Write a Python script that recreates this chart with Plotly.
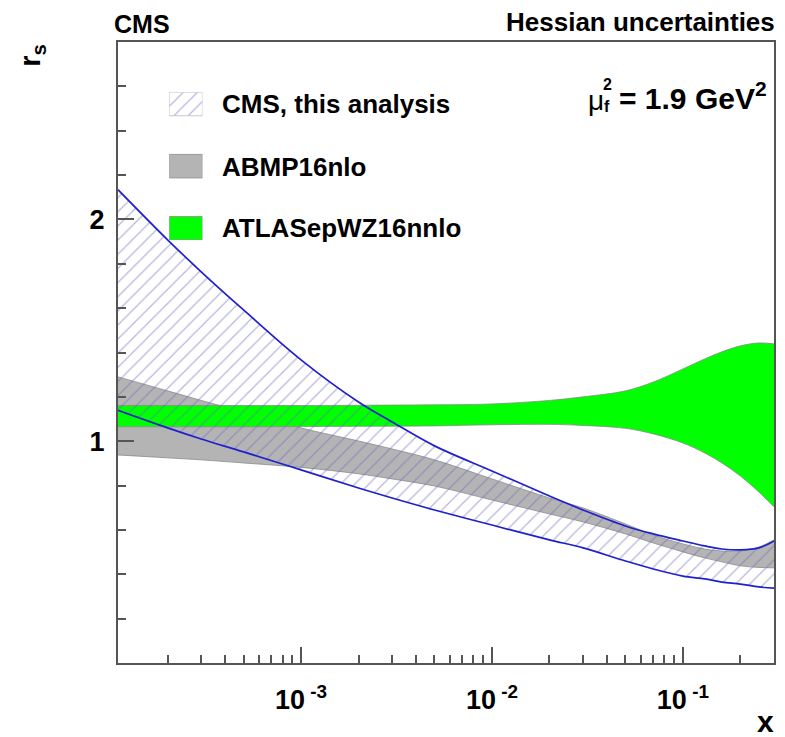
import plotly.graph_objects as go

# x grid (log scale) and band edges for the strange-quark ratio r_s at mu_f^2 = 1.9 GeV^2
xs = [1.1e-4, 2e-4, 3e-4, 5e-4, 1e-3, 2e-3, 3e-3, 5e-3, 1e-2, 2e-2, 3e-2,
      5e-2, 7e-2, 0.1, 0.13, 0.16, 0.2, 0.25, 0.3]

cms_hi = [2.134, 1.908, 1.764, 1.592, 1.367, 1.177, 1.087, 0.979, 0.866, 0.753,
          0.690, 0.618, 0.582, 0.550, 0.528, 0.514, 0.510, 0.519, 0.550]
cms_lo = [1.139, 1.060, 1.010, 0.952, 0.871, 0.789, 0.744, 0.690, 0.622, 0.555,
          0.519, 0.460, 0.424, 0.392, 0.379, 0.365, 0.356, 0.343, 0.338]

abmp_hi = [1.290, 1.227, 1.184, 1.132, 1.060, 1.001, 0.965, 0.916, 0.830, 0.744,
           0.699, 0.627, 0.577, 0.537, 0.514, 0.505, 0.505, 0.523, 0.555]
abmp_lo = [0.938, 0.925, 0.916, 0.902, 0.882, 0.853, 0.830, 0.798, 0.735, 0.672,
           0.636, 0.582, 0.541, 0.501, 0.474, 0.456, 0.438, 0.431, 0.429]

atlas_hi = [1.161, 1.161, 1.161, 1.161, 1.161, 1.162, 1.163, 1.164, 1.168, 1.184,
            1.200, 1.227, 1.267, 1.326, 1.371, 1.403, 1.430, 1.443, 1.439]
atlas_lo = [1.065, 1.065, 1.065, 1.065, 1.066, 1.067, 1.068, 1.069, 1.074, 1.076,
            1.071, 1.058, 1.033, 0.992, 0.947, 0.902, 0.843, 0.771, 0.704]

legend_labels = ["CMS, this analysis", "ABMP16nlo", "ATLASepWZ16nnlo"]

x_major = [1e-3, 1e-2, 1e-1]
x_major_text = ["10<sup> -3</sup>", "10<sup> -2</sup>", "10<sup> -1</sup>"]
x_minor = [m * 10.0 ** e for e in (-4, -3, -2, -1) for m in range(2, 10)
           if 1.1e-4 < m * 10.0 ** e <= 0.3]

GREY = "#b4b4b4"
GREEN = "#00ff00"
HATCH = "#6c6cb8"
BLUE = "#2020cc"
EDGE = "#8a8a8a"
FONT = "Liberation Sans"

# plot frame in pixels
L, R, T, B = 118, 776, 42, 663


def px(x):
    return (x - L) / (R - L)


def py(y):
    return (B - y) / (B - T)


def add_band(lo, hi, edge, fill_kw):
    # lower edge first, then the upper edge filled down to it
    fig.add_trace(go.Scatter(x=xs, y=lo, mode="lines", line=edge, line_shape="spline",
                             hoverinfo="skip", showlegend=False))
    fig.add_trace(go.Scatter(x=xs, y=hi, mode="lines", line=edge, line_shape="spline",
                             fill="tonexty", hoverinfo="skip", showlegend=False,
                             **fill_kw))


fig = go.Figure()

add_band(abmp_lo, abmp_hi, dict(color=EDGE, width=0.8), dict(fillcolor=GREY))
add_band(atlas_lo, atlas_hi, dict(color=EDGE, width=0.8), dict(fillcolor=GREEN))
add_band(cms_lo, cms_hi, dict(color=BLUE, width=1.7),
         dict(fillcolor="rgba(0,0,0,0)",
              fillpattern=dict(shape="/", fgcolor=HATCH, bgcolor="rgba(0,0,0,0)",
                               size=10, solidity=0.12)))

# legend swatches on a small hidden axis pair
sw_h = 0.378
swatch_styles = [
    dict(fillcolor="white", line=dict(color="#c8c8c8", width=1),
         fillpattern=dict(shape="/", fgcolor=HATCH, bgcolor="white", size=10,
                          solidity=0.12)),
    dict(fillcolor=GREY, line=dict(color="#999999", width=1)),
    dict(fillcolor=GREEN, line=dict(color="#999999", width=1)),
]
for i, style in enumerate(swatch_styles):
    y0 = 2 - i
    fig.add_trace(go.Scatter(x=[0, 1, 1, 0, 0], y=[y0, y0, y0 + sw_h, y0 + sw_h, y0],
                             fill="toself", mode="lines", xaxis="x2", yaxis="y2",
                             hoverinfo="skip", showlegend=False, **style))

fig.update_layout(
    width=785, height=737,
    margin=dict(l=L, r=785 - R, t=T, b=737 - B),
    paper_bgcolor="white", plot_bgcolor="white",
    showlegend=False,
    xaxis=dict(type="log", range=[-3.9586, -0.5229],
               showline=True, linecolor="#555555", linewidth=2, mirror=True,
               showgrid=False, zeroline=False,
               tickmode="array", tickvals=x_major, ticktext=x_major_text,
               ticks="inside", ticklen=16, tickwidth=1.5, tickcolor="#555555",
               tickfont=dict(family=FONT, size=27, color="black", weight="bold"),
               ticklabelstandoff=12,
               minor=dict(tickmode="array", tickvals=x_minor, ticks="inside",
                          ticklen=8, tickwidth=1.5, tickcolor="#555555",
                          showgrid=False)),
    yaxis=dict(range=[0, 2.8],
               showline=True, linecolor="#555555", linewidth=2, mirror=True,
               showgrid=False, zeroline=False,
               tickmode="array", tickvals=[1, 2], ticktext=["1", "2"],
               ticks="inside", ticklen=16, tickwidth=1.5, tickcolor="#555555",
               tickfont=dict(family=FONT, size=27, color="black", weight="bold"),
               ticklabelstandoff=6,
               minor=dict(dtick=0.2, ticks="inside", ticklen=8, tickwidth=1.5,
                          tickcolor="#555555", showgrid=False)),
    xaxis2=dict(domain=[px(169.3), px(202.7)], range=[0, 1], anchor="y2",
                visible=False, fixedrange=True),
    yaxis2=dict(domain=[py(240), py(92.3)], range=[0, 2 + sw_h], anchor="x2",
                visible=False, fixedrange=True),
)

text_font = dict(family=FONT, size=26, color="black", weight="bold")
ann = []
ann.append(dict(text="CMS", x=px(112), y=py(24), xanchor="left", yanchor="middle",
                font=dict(family=FONT, size=25, color="black", weight="bold")))
ann.append(dict(text="Hessian uncertainties", x=px(779), y=py(22), xanchor="right",
                yanchor="middle", font=text_font))
for lab, yc in zip(legend_labels, [104, 166.5, 228.3]):
    ann.append(dict(text=lab, x=px(220), y=py(yc), xanchor="left", yanchor="middle",
                    font=text_font))
# mu_f^2 = 1.9 GeV^2 with stacked sub/superscript
ann.append(dict(text="\u03bc", x=px(587), y=py(101), xanchor="left", yanchor="middle",
                font=dict(family=FONT, size=28, color="black")))
ann.append(dict(text="2", x=px(602), y=py(85), xanchor="left", yanchor="middle",
                font=dict(family=FONT, size=16, color="black", weight="bold")))
ann.append(dict(text="f", x=px(603), y=py(106), xanchor="left", yanchor="middle",
                font=dict(family=FONT, size=16, color="black", weight="bold")))
ann.append(dict(text="= 1.9 GeV<sup>2</sup>", x=px(619), y=py(96), xanchor="left",
                yanchor="middle", font=dict(family=FONT, size=30, color="black",
                                            weight="bold")))
# axis titles
ann.append(dict(text="x", x=px(767), y=py(721), xanchor="center", yanchor="middle",
                font=dict(family=FONT, size=30, color="black", weight="bold")))
ann.append(dict(text="r<sub>s</sub>", x=px(31), y=py(42), xanchor="center",
                yanchor="top", textangle=-90,
                font=dict(family=FONT, size=29, color="black", weight="bold")))
for a in ann:
    a.update(xref="paper", yref="paper", showarrow=False)
fig.update_layout(annotations=ann)

fig.write_html("out.html")
